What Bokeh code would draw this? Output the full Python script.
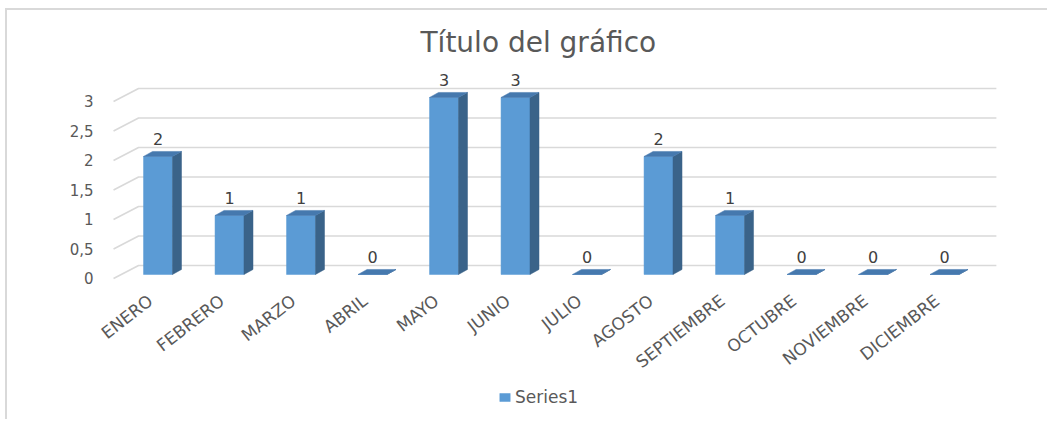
from bokeh.plotting import figure
from bokeh.models import (Range1d, FixedTicker, CustomJSTickFormatter, Legend,
                          LegendItem, ColumnDataSource)
from bokeh.layouts import column
from bokeh.embed import file_html
from bokeh.resources import INLINE
from bokeh.core.properties import value

# ---------------- data ----------------
months = ["ENERO", "FEBRERO", "MARZO", "ABRIL", "MAYO", "JUNIO", "JULIO",
          "AGOSTO", "SEPTIEMBRE", "OCTUBRE", "NOVIEMBRE", "DICIEMBRE"]
series1 = [2, 1, 1, 0, 3, 3, 0, 2, 1, 0, 0, 0]
y_ticks = [0, 0.5, 1, 1.5, 2, 2.5, 3]
series_name = "Series1"
title_text = "Título del gráfico"

# ---------------- 3D look (in data units) ----------------
BAR_W = 0.405
FACE_DX, FACE_DY = 0.105, 0.068      # front face offset from floor front edge
DEPTH_DX, DEPTH_DY = 0.126, 0.085    # bar depth
FLOOR_DX, FLOOR_DY = 0.35, 0.22      # floor depth (to back wall)
WALL_LEFT, WALL_RIGHT = -0.517, 11.83
AXIS_Y = -0.0508                     # where the category labels hang

FONT = "DejaVu Sans"
TXT = "#595959"
FRONT = "#5B9BD5"
SIDE = "#3A6389"
TOP = "#4679AE"
GRID = "#D9D9D9"

idx = list(range(len(months)))

p = figure(frame_width=1040, frame_height=348,
           min_border_left=0, min_border_right=0,
           min_border_top=60, min_border_bottom=0,
           x_range=Range1d(-2.0, 12.545), y_range=Range1d(-2.390, 3.508),
           output_backend="svg", toolbar_location=None)
p.outline_line_color = None
p.xgrid.visible = False
p.ygrid.visible = False
p.background_fill_color = "white"
p.border_fill_color = "white"

# title
p.title.text = title_text
p.title.align = "left"
p.title.offset = 413
p.title.standoff = 26
p.title.text_font = FONT
p.title.text_font_size = "28px"
p.title.text_font_style = "normal"
p.title.text_color = TXT

# gridlines: front-left diagonal + back wall
gx = [[WALL_LEFT, WALL_LEFT + FLOOR_DX, WALL_RIGHT] for _ in y_ticks]
gy = [[t, t + FLOOR_DY, t + FLOOR_DY] for t in y_ticks]
p.multi_line(gx, gy, line_color=GRID, line_width=1.6)

# bars
lefts = [i + FACE_DX - BAR_W / 2 for i in idx]
rights = [i + FACE_DX + BAR_W / 2 for i in idx]
bots = [FACE_DY for _ in idx]
tops = [v + FACE_DY for v in series1]

src = ColumnDataSource(dict(left=lefts, right=rights, bottom=bots, top=tops))
front = p.quad(left="left", right="right", bottom="bottom", top="top", source=src,
               fill_color=FRONT, line_color=FRONT, line_width=0.5)

side_xs = [[r, r + DEPTH_DX, r + DEPTH_DX, r] for r in rights]
side_ys = [[b, b + DEPTH_DY, t + DEPTH_DY, t] for b, t in zip(bots, tops)]
p.patches(side_xs, side_ys, fill_color=SIDE, line_color=SIDE, line_width=0.5)

top_xs = [[l, r, r + DEPTH_DX, l + DEPTH_DX] for l, r in zip(lefts, rights)]
top_ys = [[t, t, t + DEPTH_DY, t + DEPTH_DY] for t in tops]
p.patches(top_xs, top_ys, fill_color=TOP, line_color=TOP, line_width=0.5)

# data labels
p.text(x=[i + FACE_DX for i in idx], y=[v + 0.37 for v in series1],
       text=[str(v) for v in series1], text_align="center", text_baseline="middle",
       text_font=value(FONT), text_font_size="16px", text_color="#404040")

# axes
xa = p.xaxis[0]
xa.fixed_location = AXIS_Y
xa.ticker = FixedTicker(ticks=idx)
xa.formatter = CustomJSTickFormatter(args=dict(labels=months),
                                     code="return labels[Math.round(tick)] || '';")
xa.major_label_orientation = 0.66
xa.axis_line_color = None
xa.major_tick_line_color = None
xa.minor_tick_line_color = None
xa.major_label_text_font = FONT
xa.major_label_text_font_size = "17px"
xa.major_label_text_color = TXT
xa.major_label_standoff = 11

ya = p.yaxis[0]
ya.fixed_location = WALL_LEFT
ya.ticker = FixedTicker(ticks=y_ticks)
ya.formatter = CustomJSTickFormatter(code="return tick.toString().replace('.', ',');")
ya.axis_line_color = None
ya.major_tick_line_color = None
ya.minor_tick_line_color = None
ya.major_label_text_font = FONT
ya.major_label_text_font_size = "15px"
ya.major_label_text_color = TXT
ya.major_label_standoff = 14

legend = Legend(items=[LegendItem(label=series_name, renderers=[front])],
                orientation="horizontal", location=(491, 12),
                border_line_color=None, background_fill_alpha=0,
                label_text_font=FONT, label_text_font_size="17px",
                label_text_color=TXT, glyph_width=13, glyph_height=10,
                label_standoff=4, padding=4, margin=0)
p.add_layout(legend, "center")

layout = column(p, styles={"border-top": "2px solid #D9D9D9",
                           "border-left": "2px solid #D9D9D9",
                           "margin-left": "5px", "margin-top": "8px"})

open("out.html", "w").write(file_html(layout, INLINE))
